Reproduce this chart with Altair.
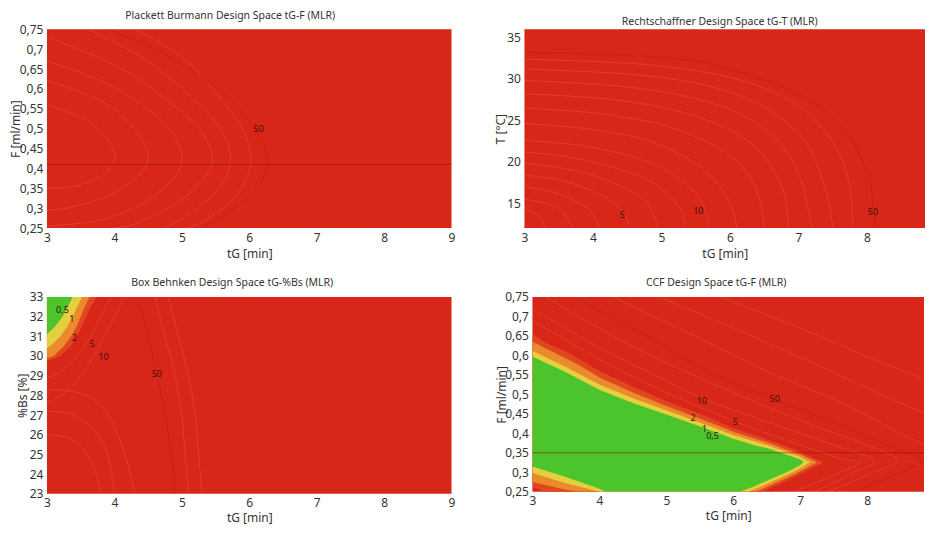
import altair as alt
import pandas as pd

# ---------------- common ----------------
TG_TICKS_LEFT = [3, 4, 5, 6, 7, 8, 9]
TG_TICKS_RIGHT = [3, 4, 5, 6, 7, 8]
F_TICKS = [0.25, 0.3, 0.35, 0.4, 0.45, 0.5, 0.55, 0.6, 0.65, 0.7, 0.75]
T_TICKS = [15, 20, 25, 30, 35]
BS_TICKS = [23, 24, 25, 26, 27, 28, 29, 30, 31, 32, 33]

RED = "#d82619"
BAND_COLORS = {"redorange": "#e0461f", "orange": "#eb8a2c", "yellow": "#e4d03e", "green": "#4cc42b"}

# ---------------- Panel 1: Plackett Burmann ----------------
pb_lines = {
    "a": ([4.3, 5.0, 5.55, 5.9, 6.02, 5.85, 5.45, 5.1], [0.75, 0.68, 0.58, 0.50, 0.42, 0.34, 0.28, 0.25]),
    "b": ([3.6, 4.5, 5.2, 5.6, 5.72, 5.55, 5.15, 4.75], [0.75, 0.67, 0.57, 0.49, 0.42, 0.35, 0.29, 0.25]),
    "c": ([3.0, 4.0, 4.8, 5.3, 5.45, 5.25, 4.8, 4.3, 4.0], [0.73, 0.66, 0.57, 0.49, 0.42, 0.36, 0.30, 0.26, 0.25]),
    "d": ([3.0, 3.8, 4.5, 4.9, 5.0, 4.85, 4.4, 3.8, 3.0], [0.67, 0.62, 0.55, 0.48, 0.42, 0.37, 0.31, 0.27, 0.255]),
    "e": ([3.0, 3.8, 4.3, 4.5, 4.35, 3.9, 3.3, 3.0], [0.62, 0.57, 0.50, 0.43, 0.38, 0.33, 0.30, 0.295]),
    "f": ([3.0, 3.6, 3.95, 4.0, 3.8, 3.4, 3.0], [0.56, 0.52, 0.46, 0.42, 0.38, 0.355, 0.35]),
}
pb_dark_x = [3.9, 4.6, 5.3, 5.8, 6.12, 6.27, 6.22, 6.0, 5.6, 5.3]
pb_dark_y = [0.75, 0.70, 0.63, 0.56, 0.49, 0.43, 0.38, 0.33, 0.28, 0.25]
pb_hline = [0.41]
pb_label_text = ["50"]
pb_label_x = [6.14]
pb_label_y = [0.50]

# ---------------- Panel 2: Rechtschaffner ----------------
rs_lines = {
    "f1": ([3.0, 4.5, 5.5, 6.3, 6.9, 7.3, 7.6, 7.75, 7.8], [32.4, 31.9, 31.0, 29.5, 27.3, 24.5, 21.0, 17, 12]),
    "f2": ([3.0, 4.5, 5.5, 6.2, 6.7, 7.1, 7.3, 7.45, 7.5], [31.2, 30.6, 29.5, 27.8, 25.5, 22.5, 19, 15, 12]),
    "f3": ([3.0, 4.3, 5.3, 6.0, 6.5, 6.85, 7.05, 7.15, 7.2], [29.8, 29.2, 28.0, 26.3, 24, 21, 17.5, 14, 12]),
    "f4": ([3.0, 4.2, 5.1, 5.8, 6.3, 6.6, 6.8, 6.85], [28.2, 27.6, 26.4, 24.6, 22.3, 19.5, 16, 12]),
    "f5": ([3.0, 4.0, 4.9, 5.5, 6.0, 6.3, 6.45, 6.5], [26.5, 25.9, 24.7, 23, 20.8, 18, 15, 12]),
    "f6": ([3.0, 3.9, 4.7, 5.2, 5.6, 5.9, 6.05, 6.1], [24.6, 24.0, 22.8, 21.2, 19.2, 16.5, 14, 12]),
    "f7": ([3.0, 3.8, 4.5, 5.0, 5.35, 5.6, 5.7], [22.6, 22.0, 20.8, 19.3, 17.3, 15, 12]),
    "f8": ([3.0, 3.7, 4.3, 4.8, 5.1, 5.3, 5.35], [21.2, 20.5, 19.3, 17.8, 16, 14, 12]),
    "f9": ([3.0, 3.6, 4.1, 4.5, 4.8, 4.95], [19.8, 19.2, 18.1, 16.7, 15, 12]),
    "f10": ([3.0, 3.5, 3.9, 4.25, 4.45, 4.55], [18.4, 17.8, 16.8, 15.4, 13.8, 12]),
    "f11": ([3.0, 3.4, 3.7, 3.95, 4.1], [17.0, 16.4, 15.4, 14.2, 12]),
    "f12": ([3.0, 3.3, 3.55, 3.7], [15.5, 15.0, 14.0, 12]),
    "f13": ([3.0, 3.2, 3.3], [14.2, 13.6, 12]),
}
rs_dark_x = [3.0, 4.0, 5.3, 6.0, 6.76, 7.2, 7.53, 7.8, 7.92, 8.05, 8.09, 8.12]
rs_dark_y = [33.2, 33.0, 32.4, 31.2, 29.05, 27.3, 25.1, 22.5, 20.4, 17.5, 14.9, 12]
rs_label_text = ["5", "10", "50"]
rs_label_x = [4.43, 5.54, 8.09]
rs_label_y = [13.6, 14.1, 13.9]

# ---------------- Panel 3: Box Behnken ----------------
bb_bands = {
    "redorange": ([29.75, 30.0, 30.5, 31.0, 31.5, 32.0, 32.5, 33.0], [3.0, 3.2, 3.35, 3.45, 3.52, 3.58, 3.65, 3.74]),
    "orange": ([29.9, 30.0, 30.5, 31.0, 31.5, 32.0, 32.5, 33.0], [3.0, 3.1, 3.25, 3.36, 3.44, 3.5, 3.56, 3.63]),
    "yellow": ([30.4, 30.6, 31.0, 31.5, 32.0, 32.5, 33.0], [3.0, 3.08, 3.2, 3.3, 3.38, 3.45, 3.52]),
    "green": ([31.1, 31.5, 32.0, 32.5, 33.0], [3.0, 3.12, 3.23, 3.31, 3.38]),
}
bb_lines = {
    "b2": ([3.95, 3.8, 3.65, 3.45, 3.2, 3.0], [33, 32, 31, 30, 29.2, 28.9]),
    "b3": ([4.15, 4.0, 3.85, 3.7, 3.5, 3.3, 3.0], [33, 32, 31, 30, 29, 28.2, 27.6]),
    "b5": ([3.0, 3.5, 3.85, 4.05, 4.2, 4.3], [28.3, 28.1, 27.3, 26, 24.5, 23]),
    "b6": ([3.0, 3.4, 3.7, 3.9, 4.0], [27.2, 27.0, 26.2, 25, 23]),
    "b7": ([3.0, 3.35, 3.6, 3.75, 3.8], [26.0, 25.8, 25, 23.8, 23]),
    "b8": ([4.6, 4.75, 4.9, 5.0, 5.05, 5.1], [33, 31, 29, 27, 25, 23]),
    "b9": ([4.8, 4.95, 5.1, 5.2, 5.25, 5.3], [33, 31, 29, 27, 25, 23]),
}
bb_dark_x = [4.35, 4.5, 4.63, 4.75, 4.85, 4.9]
bb_dark_y = [33, 31, 29.1, 27, 25, 23]
bb_label_text = ["0,5", "1", "2", "5", "10", "50"]
bb_label_x = [3.23, 3.37, 3.41, 3.67, 3.84, 4.63]
bb_label_y = [32.33, 31.9, 30.9, 30.6, 29.94, 29.1]

# ---------------- Panel 4: CCF ----------------
ccf_bands = {
    "redorange": ([3.0, 3.2, 3.5, 4.0, 4.5, 5.0, 5.5, 6.0, 6.42, 6.5, 6.8, 7.0, 7.35],
                  [0.262, 0.25, 0.25, 0.25, 0.25, 0.25, 0.25, 0.25, 0.25, 0.255, 0.278, 0.295, 0.325],
                  [0.655, 0.632, 0.610, 0.560, 0.520, 0.482, 0.450, 0.413, 0.39, 0.385, 0.366, 0.352, 0.325]),
    "orange": ([3.0, 3.5, 3.7, 4.0, 4.5, 5.0, 5.5, 6.0, 6.35, 6.5, 6.8, 7.0, 7.25],
               [0.275, 0.255, 0.25, 0.25, 0.25, 0.25, 0.25, 0.25, 0.25, 0.262, 0.285, 0.302, 0.326],
               [0.635, 0.592, 0.575, 0.543, 0.505, 0.470, 0.438, 0.404, 0.385, 0.377, 0.358, 0.346, 0.326]),
    "yellow": ([3.0, 3.5, 4.0, 4.5, 5.0, 5.5, 6.0, 6.22, 6.3, 6.5, 6.8, 7.0, 7.15],
               [0.298, 0.272, 0.25, 0.25, 0.25, 0.25, 0.25, 0.25, 0.255, 0.27, 0.293, 0.31, 0.326],
               [0.612, 0.570, 0.525, 0.490, 0.459, 0.428, 0.396, 0.384, 0.380, 0.370, 0.352, 0.340, 0.326]),
    "green": ([3.0, 3.5, 4.0, 4.1, 4.5, 5.0, 5.5, 6.0, 6.1, 6.3, 6.5, 6.8, 7.0, 7.05],
              [0.315, 0.288, 0.258, 0.25, 0.25, 0.25, 0.25, 0.25, 0.25, 0.263, 0.278, 0.300, 0.318, 0.327],
              [0.597, 0.557, 0.512, 0.505, 0.478, 0.448, 0.418, 0.386, 0.381, 0.370, 0.362, 0.345, 0.333, 0.327]),
}
ccf_lines = {
    "c5": ([3.0, 4.0, 5.0, 6.03, 7.0, 7.6, 7.9, 7.6, 7.2, 6.9], [0.69, 0.59, 0.505, 0.43, 0.37, 0.335, 0.325, 0.30, 0.27, 0.25]),
    "c10": ([3.0, 4.0, 5.0, 5.53, 6.5, 7.5, 8.1, 7.8, 7.4, 7.2], [0.72, 0.62, 0.535, 0.49, 0.43, 0.37, 0.33, 0.30, 0.265, 0.25]),
    "c20": ([3.2, 4.2, 5.2, 6.2, 7.2, 8.0, 8.45, 8.1, 7.7, 7.4], [0.75, 0.65, 0.565, 0.49, 0.42, 0.37, 0.33, 0.30, 0.27, 0.25]),
    "c70": ([4.2, 5.3, 6.5, 7.6, 8.5, 9.0], [0.75, 0.66, 0.56, 0.48, 0.40, 0.36]),
    "c80": ([4.9, 6.0, 7.2, 8.2, 9.0], [0.75, 0.67, 0.58, 0.50, 0.44]),
    "c90": ([5.8, 7.0, 8.1, 9.0], [0.75, 0.67, 0.59, 0.53]),
    "c95": ([8.6, 8.9, 9.0], [0.33, 0.31, 0.30]),
}
ccf_dark_x = [3.6, 4.6, 5.6, 6.62, 7.6, 8.3, 8.8, 8.5, 8.1, 7.8]
ccf_dark_y = [0.75, 0.66, 0.56, 0.487, 0.42, 0.37, 0.33, 0.30, 0.27, 0.25]
ccf_hline = [0.35]
ccf_label_text = ["10", "50", "2", "5", "1", "0,5"]
ccf_label_x = [5.53, 6.62, 5.40, 6.03, 5.57, 5.69]
ccf_label_y = [0.483, 0.487, 0.440, 0.428, 0.410, 0.392]

FONT = "Noto Sans"
COMMA = "replace(format(datum.value, '.2~f'), '.', ',')"


def lines_df(lines):
    rows = []
    for k, (xs, ys) in lines.items():
        for i, (x, y) in enumerate(zip(xs, ys)):
            rows.append({"id": k, "i": i, "x": x, "y": y})
    return pd.DataFrame(rows)


def panel(title, tdx, xmax, xticks, ydom, yticks, ytitle, title_x, xtitle_y, width, height, lines,
          dark_x, dark_y, lab_text, lab_x, lab_y, hline=None, vbands=None, hbands=None, comma=False):
    xs = alt.Scale(domain=[3, xmax], nice=False, zero=False)
    ys = alt.Scale(domain=ydom, nice=False, zero=False)
    xax = alt.Axis(values=xticks, title="tG [min]", titleY=xtitle_y, titleBaseline="top")
    yax_kw = dict(values=yticks, title=ytitle, titleX=title_x, titleBaseline="bottom")
    if comma:
        yax_kw["labelExpr"] = COMMA
    yax = alt.Axis(**yax_kw)
    layers = []
    if vbands:
        for name in ["redorange", "orange", "yellow", "green"]:
            bx, blo, bhi = vbands[name]
            d = pd.DataFrame({"x": bx, "lo": blo, "hi": bhi})
            layers.append(alt.Chart(d).mark_area(color=BAND_COLORS[name], clip=True).encode(
                x=alt.X("x:Q", scale=xs, axis=xax),
                y=alt.Y("lo:Q", scale=ys, axis=yax), y2="hi:Q"))
    if hbands:
        for name in ["redorange", "orange", "yellow", "green"]:
            by, bx = hbands[name]
            d = pd.DataFrame({"y": by, "x": bx})
            layers.append(alt.Chart(d).mark_area(color=BAND_COLORS[name], orient="horizontal", clip=True).encode(
                y=alt.Y("y:Q", scale=ys, axis=yax),
                x=alt.X("x:Q", scale=xs, axis=xax), x2=alt.value(0)))
    layers.append(alt.Chart(lines_df(lines)).mark_line(
        color="#ee6a5c", strokeWidth=0.8, opacity=0.45, clip=True, interpolate="cardinal").encode(
        x=alt.X("x:Q", scale=xs, axis=xax), y=alt.Y("y:Q", scale=ys, axis=yax),
        detail="id:N", order="i:Q"))
    dd = pd.DataFrame({"x": dark_x, "y": dark_y, "i": list(range(len(dark_x)))})
    layers.append(alt.Chart(dd).mark_line(color="#a8180e", strokeWidth=1, opacity=0.3, clip=True,
                                          interpolate="cardinal").encode(
        x=alt.X("x:Q", scale=xs, axis=xax), y=alt.Y("y:Q", scale=ys, axis=yax), order="i:Q"))
    if hline:
        hd = pd.DataFrame({"y": hline})
        layers.append(alt.Chart(hd).mark_rule(color="#8c1409", strokeWidth=1, opacity=0.55).encode(
            y=alt.Y("y:Q", scale=ys, axis=yax)))
    ld = pd.DataFrame({"t": lab_text, "x": lab_x, "y": lab_y})
    layers.append(alt.Chart(ld).mark_text(font=FONT, fontSize=9, color="#3a1208").encode(
        x=alt.X("x:Q", scale=xs, axis=xax), y=alt.Y("y:Q", scale=ys, axis=yax), text="t:N"))
    return alt.layer(*layers).properties(
        width=width, height=height,
        title=alt.TitleParams(title, fontSize=10.5, fontWeight="normal", color="#333", font=FONT,
                              dx=tdx, offset=2))


p1 = panel("Plackett Burmann Design Space tG-F (MLR)", -19, 9, TG_TICKS_LEFT, [0.25, 0.75], F_TICKS,
           "F [ml/min]", -24, 20, 405, 199,
           pb_lines, pb_dark_x, pb_dark_y, pb_label_text, pb_label_x, pb_label_y, hline=pb_hline, comma=True)
p2 = panel("Rechtschaffner Design Space tG-T (MLR)", -5, 8.85, TG_TICKS_RIGHT, [12, 36], T_TICKS,
           "T [°C]", -17, 20, 401, 199,
           rs_lines, rs_dark_x, rs_dark_y, rs_label_text, rs_label_x, rs_label_y)
p3 = panel("Box Behnken Design Space tG-%Bs (MLR)", -17, 9, TG_TICKS_LEFT, [23, 33], BS_TICKS,
           "%Bs [%]", -17, 19, 405, 197,
           bb_lines, bb_dark_x, bb_dark_y, bb_label_text, bb_label_x, bb_label_y, hbands=bb_bands)
p4 = panel("CCF Design Space tG-F (MLR)", -12, 8.85, TG_TICKS_RIGHT, [0.25, 0.75], F_TICKS,
           "F [ml/min]", -24, 19, 392, 195,
           ccf_lines, ccf_dark_x, ccf_dark_y, ccf_label_text, ccf_label_x, ccf_label_y,
           hline=ccf_hline, vbands=ccf_bands, comma=True)

row1 = alt.hconcat(p1, p2, spacing=39)
row2 = alt.hconcat(p3, p4, spacing=40)
chart = alt.vconcat(row1, row2, spacing=19, center=False,
                    padding={"left": 2, "top": 2, "right": 0, "bottom": 0}).configure_view(
    fill=RED, stroke=None).configure_axis(
    labelFont=FONT, titleFont=FONT, labelFontSize=12, titleFontSize=12, labelColor="#333",
    titleColor="#333", titleFontWeight="normal", domain=False, ticks=False, grid=False,
    labelPadding=4, titlePadding=2, labelFlush=False)

chart.save("out.html", embed_options={"renderer": "svg", "actions": False})
